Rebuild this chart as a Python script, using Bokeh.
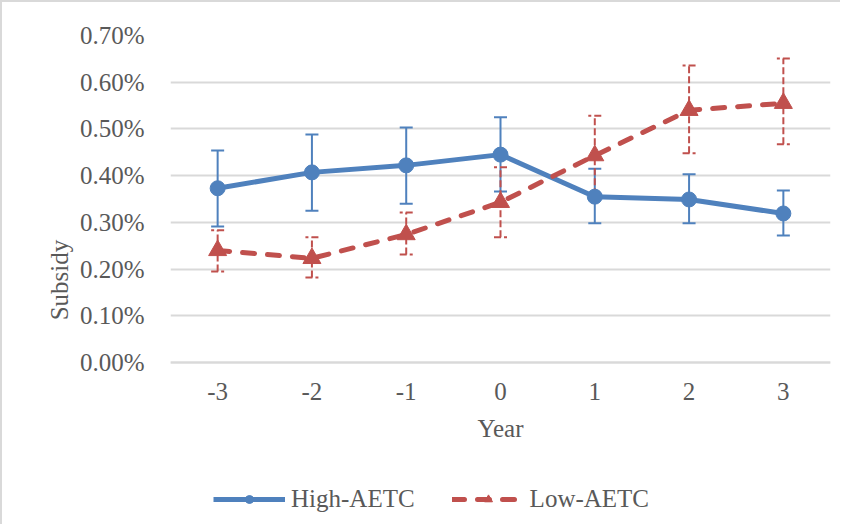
from bokeh.plotting import figure
from bokeh.models import (ColumnDataSource, Range1d, FixedTicker, PrintfTickFormatter,
                          Whisker, TeeHead, Legend, LegendItem)
from bokeh.embed import file_html
from bokeh.resources import INLINE

years = [-3, -2, -1, 0, 1, 2, 3]
year_labels = ["-3", "-2", "-1", "0", "1", "2", "3"]

# values in percent
high_mean = [0.373, 0.407, 0.422, 0.445, 0.355, 0.349, 0.319]
high_upper = [0.454, 0.488, 0.503, 0.525, 0.415, 0.403, 0.368]
high_lower = [0.291, 0.325, 0.340, 0.366, 0.298, 0.298, 0.272]

low_mean = [0.240, 0.223, 0.274, 0.343, 0.443, 0.540, 0.555]
low_upper = [0.283, 0.268, 0.321, 0.418, 0.528, 0.636, 0.651]
low_lower = [0.195, 0.182, 0.231, 0.268, 0.358, 0.448, 0.467]

y_ticks = [0.0, 0.1, 0.2, 0.3, 0.4, 0.5, 0.6, 0.7]
series_names = ["High-AETC", "Low-AETC"]

BLUE = "#4F81BD"
RED = "#C0504D"
TEXT = "#595959"
GRID = "#D9D9D9"
FONT = "Liberation Serif"
FS = "25px"

# frame spans the value axis (327 px for 0..0.70) plus room below for axis texts and legend
PLOT_PX = 327
FRAME_H = 489
y_top = y_ticks[-1]
y_bottom = -y_top * (FRAME_H - PLOT_PX) / PLOT_PX

high_src = ColumnDataSource(dict(x=years, y=high_mean, hi=high_upper, lo=high_lower))
low_src = ColumnDataSource(dict(x=years, y=low_mean, hi=low_upper, lo=low_lower))

p = figure(frame_width=660, frame_height=FRAME_H, output_backend="svg", toolbar_location=None,
           x_range=Range1d(-3.5, 3.5), y_range=Range1d(y_bottom, y_top),
           min_border_left=168, min_border_right=10, min_border_top=33, min_border_bottom=0)
p.styles = {"border-left": "2px solid #D9D9D9", "border-top": "2px solid #D9D9D9"}
p.outline_line_color = None
p.background_fill_color = "white"
p.border_fill_color = "white"

# axes
p.xaxis.ticker = FixedTicker(ticks=years)
p.xaxis.major_label_overrides = {y: l for y, l in zip(years, year_labels)}
p.xaxis.fixed_location = 0
p.yaxis.ticker = FixedTicker(ticks=y_ticks)
p.yaxis.formatter = PrintfTickFormatter(format="%.2f%%")
p.yaxis.bounds = (y_ticks[0], y_ticks[-1])
for ax in (p.xaxis[0], p.yaxis[0]):
    ax.major_tick_line_color = None
    ax.minor_tick_line_color = None
    ax.major_label_text_font = FONT
    ax.major_label_text_font_size = FS
    ax.major_label_text_color = TEXT
    ax.axis_label_text_font = FONT
    ax.axis_label_text_font_size = FS
    ax.axis_label_text_color = TEXT
    ax.axis_label_text_font_style = "normal"
p.xaxis.axis_line_color = GRID
p.xaxis.axis_line_width = 2
p.yaxis.axis_line_color = None
p.xaxis.axis_label = "Year"
p.yaxis.axis_label = "Subsidy"
p.xaxis.major_label_standoff = 14
p.xaxis.axis_label_standoff = 12
p.yaxis.major_label_standoff = 20
p.yaxis.axis_label_standoff = 4

p.xgrid.grid_line_color = None
p.ygrid.grid_line_color = GRID
p.ygrid.grid_line_width = 2

# High-AETC
hw = Whisker(source=high_src, base="x", upper="hi", lower="lo",
             line_color=BLUE, line_width=2,
             upper_head=TeeHead(size=13, line_color=BLUE, line_width=2),
             lower_head=TeeHead(size=13, line_color=BLUE, line_width=2))
p.add_layout(hw)
hl = p.line("x", "y", source=high_src, line_color=BLUE, line_width=5, line_join="round")
hm = p.scatter("x", "y", source=high_src, marker="circle", size=15,
               fill_color=BLUE, line_color=BLUE)

# Low-AETC
lw = Whisker(source=low_src, base="x", upper="hi", lower="lo",
             line_color=RED, line_width=2, line_dash="7 3",
             upper_head=TeeHead(size=13, line_color=RED, line_width=2, line_dash="7 3"),
             lower_head=TeeHead(size=13, line_color=RED, line_width=2, line_dash="7 3"))
p.add_layout(lw)
ll = p.line("x", "y", source=low_src, line_color=RED, line_width=5,
            line_dash="12 13", line_cap="round")
lm = p.scatter("x", "y", source=low_src, marker="triangle", size=18,
               fill_color=RED, line_color=RED)

legend = Legend(items=[LegendItem(label=series_names[0], renderers=[hl, hm]),
                       LegendItem(label=series_names[1], renderers=[ll, lm])],
                orientation="horizontal", location=(43, 11),
                glyph_width=72, glyph_height=20, label_standoff=6, spacing=37,
                label_text_font=FONT, label_text_font_size=FS, label_text_color=TEXT,
                border_line_color=None, background_fill_alpha=0,
                margin=0, padding=0)
p.add_layout(legend)

open("out.html", "w").write(file_html(p, INLINE))
